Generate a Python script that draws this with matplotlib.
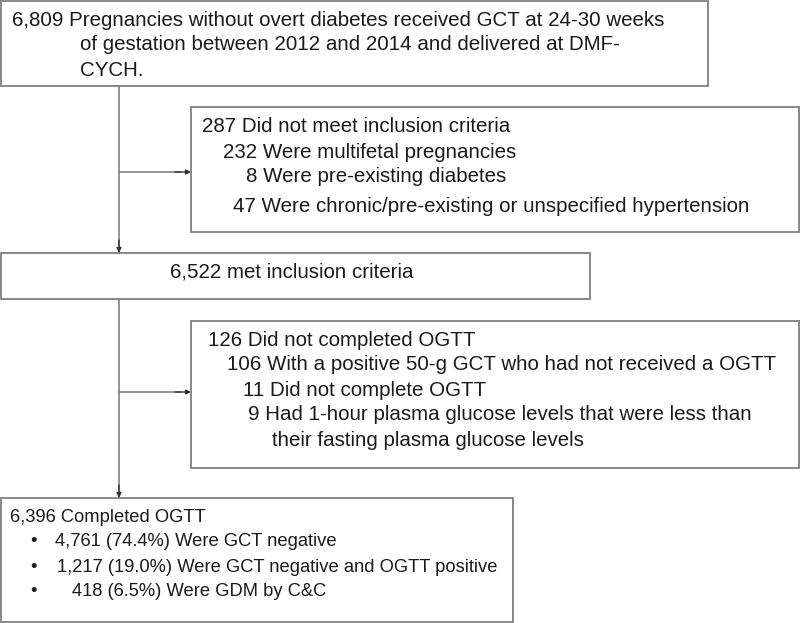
import matplotlib.pyplot as plt
from matplotlib.patches import Rectangle

# flowchart text
top_box = ["6,809 Pregnancies without overt diabetes received GCT at 24-30 weeks",
           "of gestation between 2012 and 2014 and delivered at DMF-",
           "CYCH."]
excluded_1 = ["287 Did not meet inclusion criteria",
              "232 Were multifetal pregnancies",
              "8 Were pre-existing diabetes",
              "47 Were chronic/pre-existing or unspecified hypertension"]
met_box = ["6,522 met inclusion criteria"]
excluded_2 = ["126 Did not completed OGTT",
              "106 With a positive 50-g GCT who had not received a OGTT",
              "11 Did not complete OGTT",
              "9 Had 1-hour plasma glucose levels that were less than",
              "their fasting plasma glucose levels"]
final_head = "6,396 Completed OGTT"
final_items = ["4,761 (74.4%) Were GCT negative",
               "1,217 (19.0%) Were GCT negative and OGTT positive",
               "418 (6.5%) Were GDM by C&C"]

plt.rcParams['font.family'] = ['Liberation Sans', 'DejaVu Sans']
fig = plt.figure(figsize=(8, 6.23), dpi=100)
ax = fig.add_axes([0, 0, 1, 1])
ax.set_xlim(0, 800)
ax.set_ylim(623, 0)
ax.axis('off')

edge = '#808080'
ink = '#1a1a1a'
fs = 14.8
fs_small = 13.2  # bottom box uses a narrower face in the original


def box(x0, y0, x1, y1):
    ax.add_patch(Rectangle((x0, y0), x1 - x0, y1 - y0, fill=False,
                           edgecolor=edge, lw=1.3))


def lines(xs, ys, texts, size=fs):
    for x, y, t in zip(xs, ys, texts):
        ax.text(x, y, t, ha='left', va='center', fontsize=size, color=ink)


def arrow(x0, y0, x1, y1):
    ax.annotate('', xy=(x1, y1), xytext=(x0, y0),
                arrowprops=dict(arrowstyle='-|>', color='#333333', lw=1.0,
                                mutation_scale=7, shrinkA=0, shrinkB=0))


# boxes
box(0.5, 1, 708, 86)
box(191, 107, 799, 232)
box(0.5, 253, 590, 299)
box(191, 321, 799, 468)
box(0.5, 498, 513, 622)

# connectors
ax.plot([119, 119], [86, 253], color=edge, lw=1.2)
arrow(119, 240, 119, 253)
ax.plot([119, 180], [172, 172], color=edge, lw=1.2)
arrow(175, 172, 191, 172)
ax.plot([119, 119], [299, 498], color=edge, lw=1.2)
arrow(119, 485, 119, 498)
ax.plot([119, 180], [392, 392], color=edge, lw=1.2)
arrow(175, 392, 191, 392)

# texts
lines([12, 80, 80], [20, 45, 70], top_box)
lines([202, 223, 246, 233], [126, 152, 176, 206], excluded_1)
lines([170], [272], met_box)
lines([208, 227, 243, 248, 272], [340, 365, 390, 415, 440], excluded_2)
lines([10], [517], [final_head], size=fs_small)
for y, x, t in zip([542, 567, 592], [55, 57, 72], final_items):
    ax.text(30, y, '\u2022', ha='left', va='center', fontsize=fs_small, color=ink)
    ax.text(x, y, t, ha='left', va='center', fontsize=fs_small, color=ink)

fig.savefig('out.png', dpi=100)
